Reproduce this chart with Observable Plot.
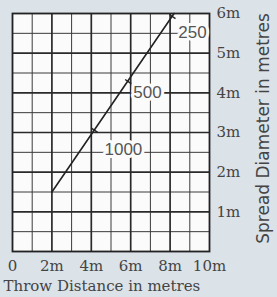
<!DOCTYPE html>
<html>
<head>
<meta charset="utf-8">
<script src="https://cdn.jsdelivr.net/npm/d3@7"></script>
<script src="https://cdn.jsdelivr.net/npm/@observablehq/plot@0.6"></script>
<style>
  html, body { margin: 0; padding: 0; background: #dbe2e8; }
  #chart { width: 277px; height: 297px; overflow: hidden; }
</style>
</head>
<body>
<div id="chart"></div>
<script>
// Axis ticks and labels
const xTicks = [0, 2, 4, 6, 8, 10];
const xTickLabels = ["0", "2m", "4m", "6m", "8m", "10m"];
const yTicks = [1, 2, 3, 4, 5, 6];
const yTickLabels = ["1m", "2m", "3m", "4m", "5m", "6m"];

// Grid lines (metres)
const xMajorGrid = [2, 4, 6, 8];
const xMinorGrid = [1, 3, 5, 7, 9];
const yMajorGrid = [1, 2, 3, 4, 5];
const yMinorGrid = [0.5, 1.5, 2.5, 3.5, 4.5, 5.5];

// Spread line: throw distance (m) vs spread diameter (m)
const throwDistance = [2, 8.2];
const spreadDiameter = [1.5, 6.0];

// Marks on the line and their labels
const markNames = ["250", "500", "1000"];
const markX = [8.1, 5.85, 4.15];
const markY = [5.93, 4.29, 3.06];
const labelX = [9.14, 6.85, 5.63];
const labelY = [5.52, 4.0, 2.58];

const lineData = throwDistance.map((x, i) => ({x, y: spreadDiameter[i]}));
const markData = markNames.map((n, i) => ({name: n, x: markX[i], y: markY[i]}));
const labelData = markNames.map((n, i) => ({name: n, x: labelX[i], y: labelY[i]}));

const tickSymbol = {
  draw(ctx) {
    ctx.moveTo(-2.6, -1.8);
    ctx.lineTo(3.4, 2.3);
  }
};

const chart = Plot.plot({
  width: 277,
  height: 297,
  marginLeft: 12,
  marginRight: 68,
  marginTop: 13,
  marginBottom: 46,
  x: {domain: [0, 10]},
  y: {domain: [0, 6]},
  style: {fontFamily: "DejaVu Serif", fontSize: "15px", color: "#444", background: "transparent", overflow: "visible"},
  marks: [
    Plot.frame({fill: "#fbfbfb", stroke: null}),
    Plot.ruleX(xMinorGrid, {stroke: "#3a3a3a", strokeWidth: 1}),
    Plot.ruleY(yMinorGrid, {stroke: "#3a3a3a", strokeWidth: 1}),
    Plot.ruleX(xMajorGrid, {stroke: "#2a2a2a", strokeWidth: 1.7}),
    Plot.ruleY(yMajorGrid, {stroke: "#2a2a2a", strokeWidth: 1.7}),
    Plot.frame({stroke: "#222", strokeWidth: 1.8}),
    Plot.line(lineData, {x: "x", y: "y", stroke: "#222", strokeWidth: 1.6}),
    Plot.dot(markData, {x: "x", y: "y", symbol: tickSymbol, stroke: "#222", strokeWidth: 1.4, fill: "none", r: 3}),
    Plot.text(labelData, {
      x: "x", y: "y", text: "name",
      fill: "#555", stroke: "#fbfbfb", strokeWidth: 6, paintOrder: "stroke",
      fontFamily: "Liberation Sans", fontSize: 17
    }),
    Plot.axisX(xTicks, {
      tickSize: 0, tickPadding: 9, label: null,
      tickFormat: d => xTickLabels[xTicks.indexOf(d)]
    }),
    Plot.axisY(yTicks, {
      anchor: "right", tickSize: 0, tickPadding: 7, label: null,
      tickFormat: d => yTickLabels[yTicks.indexOf(d)]
    }),
    Plot.text(["Throw Distance in metres"], {
      frameAnchor: "bottom-left", textAnchor: "start", dx: -9, dy: 39,
      fill: "#444", fontFamily: "DejaVu Serif", fontSize: 15
    }),
    Plot.text(["Spread Diameter in metres"], {
      frameAnchor: "right", textAnchor: "middle", dx: 54, dy: -4, rotate: -90,
      fill: "#444", fontFamily: "DejaVu Sans", fontSize: 17
    })
  ]
});

document.getElementById("chart").appendChild(chart);
</script>
</body>
</html>
